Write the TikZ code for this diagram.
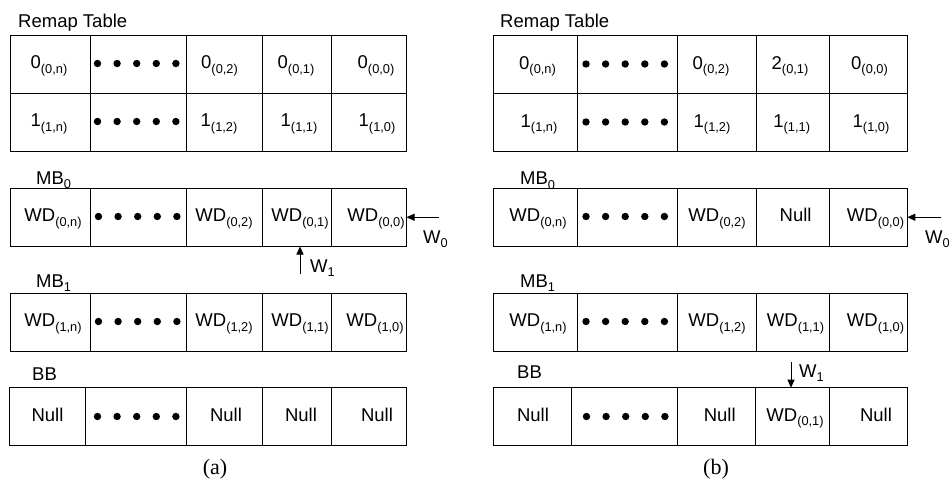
\documentclass[tikz,border=0pt]{standalone}
\usepackage{fontspec}
\setmainfont{Liberation Sans}
\newfontfamily\captionserif{Liberation Serif}
\usetikzlibrary{arrows.meta}

% lowered, smaller index text after a cell value
\newcommand\subtxt[1]{\raisebox{-4.5pt}{\fontsize{12.8}{14}\selectfont #1}}

% one rectangular cell: name, x-left, x-right, y-top, y-bottom
\newcommand\mkcell[5]{%
  \pgfmathsetmacro\cellw{#3-#2}%
  \pgfmathsetmacro\cellh{#5-#4}%
  \pgfmathsetmacro\cellx{(#2+#3)/2}%
  \pgfmathsetmacro\celly{(#4+#5)/2}%
  \node[cellbox,minimum width=\cellw pt,minimum height=\cellh pt] (#1) at (\cellx,\celly) {};}

% a row of five cells: prefix, y-top, y-bottom, six column edges
\newcommand\mkrow[9]{%
  \mkcell{#1-1}{#4}{#5}{#2}{#3}%
  \mkcell{#1-2}{#5}{#6}{#2}{#3}%
  \mkcell{#1-3}{#6}{#7}{#2}{#3}%
  \mkcell{#1-4}{#7}{#8}{#2}{#3}%
  \mkcell{#1-5}{#8}{#9}{#2}{#3}}

% five dots standing for the omitted entries: prefix, first x, y
\newcommand\mkdots[3]{%
  \foreach \i in {0,...,4} {\node[dotmark] (#1-\i) at ({#2+19.6*\i},#3) {};}}

\begin{document}
\begin{tikzpicture}[x=1pt,y=-1pt,
  cellbox/.style={draw=black,line width=0.9pt,inner sep=0pt,outer sep=0pt,rectangle},
  celltext/.style={anchor=base,inner sep=0pt,font=\fontsize{18.5}{22}\selectfont},
  hdr/.style={anchor=base west,inner sep=0pt,font=\fontsize{18.5}{22}\selectfont},
  dotmark/.style={circle,fill=black,inner sep=0pt,minimum size=7.4pt},
  arr/.style={-{Triangle[length=8pt,width=7pt]},line width=0.9pt},
  capstyle/.style={anchor=base,inner sep=0pt,font=\captionserif\fontsize{22}{24}\selectfont}]

\useasboundingbox (0,0) rectangle (952,481);

% ---------------- (a) ----------------
\node[hdr] (a-remap-h) at (18,28) {Remap Table};
\mkrow{a-r1}{35}{93}{10}{90.7}{186.7}{262.5}{331.5}{406.5}
\mkrow{a-r2}{93}{151}{10}{90.7}{186.7}{262.5}{331.5}{406.5}
\mkdots{a-r1d}{97.5}{63.5}
\mkdots{a-r2d}{97.5}{121.5}
\node[celltext] (a-r1t1) at (49,69) {0\subtxt{(0,n)}};
\node[celltext] (a-r1t3) at (219.5,69) {0\subtxt{(0,2)}};
\node[celltext] (a-r1t4) at (296,69) {0\subtxt{(0,1)}};
\node[celltext] (a-r1t5) at (376,69) {0\subtxt{(0,0)}};
\node[celltext] (a-r2t1) at (49,127) {1\subtxt{(1,n)}};
\node[celltext] (a-r2t3) at (219,127) {1\subtxt{(1,2)}};
\node[celltext] (a-r2t4) at (299,127) {1\subtxt{(1,1)}};
\node[celltext] (a-r2t5) at (377,127) {1\subtxt{(1,0)}};

\node[hdr] (a-mb0-h) at (36,184) {MB\subtxt{0}};
\mkrow{a-mb0}{188}{246.5}{10}{90.7}{186.7}{262.5}{331.5}{406.5}
\mkdots{a-mb0d}{98.5}{216.5}
\node[celltext] (a-mb0t1) at (53,221.5) {WD\subtxt{(0,n)}};
\node[celltext] (a-mb0t3) at (224,221.5) {WD\subtxt{(0,2)}};
\node[celltext] (a-mb0t4) at (300,221.5) {WD\subtxt{(0,1)}};
\node[celltext] (a-mb0t5) at (376,221.5) {WD\subtxt{(0,0)}};

\node[hdr] (a-mb1-h) at (36,287) {MB\subtxt{1}};
\mkrow{a-mb1}{293}{351}{10}{90.7}{186.7}{262.5}{331.5}{406.5}
\mkdots{a-mb1d}{98.5}{321.5}
\node[celltext] (a-mb1t1) at (53,326.5) {WD\subtxt{(1,n)}};
\node[celltext] (a-mb1t3) at (224,326.5) {WD\subtxt{(1,2)}};
\node[celltext] (a-mb1t4) at (300,326.5) {WD\subtxt{(1,1)}};
\node[celltext] (a-mb1t5) at (375,326.5) {WD\subtxt{(1,0)}};

\node[hdr] (a-bb-h) at (32,380) {BB};
\mkrow{a-bb}{387.7}{445.5}{9.5}{85.3}{186}{262}{331.5}{406.5}
\mkdots{a-bbd}{97.5}{416.5}
\node[celltext] (a-bbt1) at (47.5,421) {Null};
\node[celltext] (a-bbt3) at (226,421) {Null};
\node[celltext] (a-bbt4) at (301,421) {Null};
\node[celltext] (a-bbt5) at (377,421) {Null};

% writes into MB0
\coordinate (a-w0-tail) at (439,217.25);
\draw[arr] (a-w0-tail) -- (a-mb0-5.east);
\node[hdr] (a-w0) at (423,243) {W\subtxt{0}};
\coordinate (a-w1-tail) at (300,274);
\draw[arr] (a-w1-tail) -- (a-w1-tail |- a-mb0-4.south);
\node[hdr] (a-w1) at (310,272) {W\subtxt{1}};

\node[capstyle] (a-cap) at (215,474) {(a)};

% ---------------- (b) ----------------
\node[hdr] (b-remap-h) at (500,28) {Remap Table};
\mkrow{b-r1}{35.5}{93.5}{493}{577.3}{677.7}{756.7}{829.3}{907.3}
\mkrow{b-r2}{93.5}{151.5}{493}{577.3}{677.7}{756.7}{829.3}{907.3}
\mkdots{b-r1d}{586}{64}
\mkdots{b-r2d}{586}{122}
\node[celltext] (b-r1t1) at (537.5,69.5) {0\subtxt{(0,n)}};
\node[celltext] (b-r1t3) at (711,69.5) {0\subtxt{(0,2)}};
\node[celltext] (b-r1t4) at (790,69.5) {2\subtxt{(0,1)}};
\node[celltext] (b-r1t5) at (869.5,69.5) {0\subtxt{(0,0)}};
\node[celltext] (b-r2t1) at (539,127.5) {1\subtxt{(1,n)}};
\node[celltext] (b-r2t3) at (712,127.5) {1\subtxt{(1,2)}};
\node[celltext] (b-r2t4) at (791.7,127.5) {1\subtxt{(1,1)}};
\node[celltext] (b-r2t5) at (871,127.5) {1\subtxt{(1,0)}};

\node[hdr] (b-mb0-h) at (520,185) {MB\subtxt{0}};
\mkrow{b-mb0}{188}{246.5}{493}{577.3}{677.7}{756.7}{829.3}{907.3}
\mkdots{b-mb0d}{586}{216.5}
\node[celltext] (b-mb0t1) at (538,221.5) {WD\subtxt{(0,n)}};
\node[celltext] (b-mb0t3) at (717,221.5) {WD\subtxt{(0,2)}};
\node[celltext] (b-mb0t4) at (795.6,221.5) {Null};
\node[celltext] (b-mb0t5) at (875.5,221.5) {WD\subtxt{(0,0)}};

\node[hdr] (b-mb1-h) at (520,287) {MB\subtxt{1}};
\mkrow{b-mb1}{293}{351}{493}{577.3}{677.7}{756.7}{829.3}{907.3}
\mkdots{b-mb1d}{586}{321.5}
\node[celltext] (b-mb1t1) at (538,326.5) {WD\subtxt{(1,n)}};
\node[celltext] (b-mb1t3) at (717,326.5) {WD\subtxt{(1,2)}};
\node[celltext] (b-mb1t4) at (795.5,326.5) {WD\subtxt{(1,1)}};
\node[celltext] (b-mb1t5) at (875.5,326.5) {WD\subtxt{(1,0)}};

\node[hdr] (b-bb-h) at (517,378) {BB};
\mkrow{b-bb}{387.7}{445.5}{493}{571.7}{677}{755.7}{829.3}{907.3}
\mkdots{b-bbd}{586.5}{416.5}
\node[celltext] (b-bbt1) at (533,421) {Null};
\node[celltext] (b-bbt3) at (719.7,421) {Null};
\node[celltext] (b-bbt4) at (795,421) {WD\subtxt{(0,1)}};
\node[celltext] (b-bbt5) at (876,421) {Null};

% W0 into MB0, W1 relocated into BB
\coordinate (b-w0-tail) at (941,217.25);
\draw[arr] (b-w0-tail) -- (b-mb0-5.east);
\node[hdr] (b-w0) at (925,243) {W\subtxt{0}};
\coordinate (b-w1-tail) at (791,362);
\draw[arr] (b-w1-tail) -- (b-w1-tail |- b-bb-4.north);
\node[hdr] (b-w1) at (799,377) {W\subtxt{1}};

\node[capstyle] (b-cap) at (716,474) {(b)};
\end{tikzpicture}
\end{document}
